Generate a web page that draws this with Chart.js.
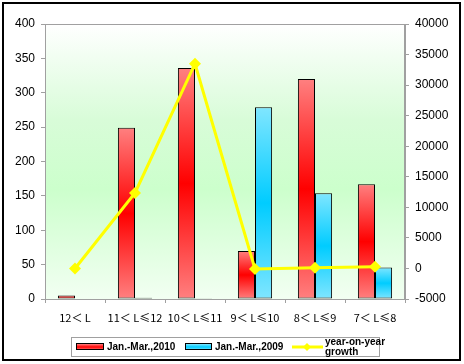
<!DOCTYPE html>
<html>
<head>
<meta charset="utf-8">
<script src="https://cdn.jsdelivr.net/npm/chart.js@4/dist/chart.umd.min.js"></script>
<style>
html,body{margin:0;padding:0;background:#fff;}
#wrap{position:absolute;left:0;top:0;width:464px;height:364px;}
</style>
</head>
<body>
<div id="wrap"><canvas id="c" width="464" height="364"></canvas></div>
<script>
const categories = ["12＜ L", "11＜ L≤12", "10＜ L≤11", "9＜ L≤10", "8＜ L≤9", "7＜ L≤8"];
const sales2010 = [5, 249, 336, 70, 320, 167];
const sales2009 = [0, 2, 1, 279, 154, 46];
const growth = [0, 12350, 33500, -74.9, 107.8, 263];
const leftTicks = [0, 400, 50];
const rightTicks = [-5000, 40000, 5000];
const seriesNames = ["Jan.-Mar.,2010", "Jan.-Mar.,2009", "year-on-year growth"];

function barGradient(ctx, light, dark) {
  const chart = ctx.chart;
  const area = chart.chartArea;
  if (!area || ctx.type !== 'data') return dark;
  const y = chart.scales.y;
  const v = ctx.parsed ? ctx.parsed.y : ctx.raw;
  const top = y.getPixelForValue(v);
  const bot = y.getPixelForValue(0);
  if (!isFinite(top) || Math.abs(bot - top) < 1) return light;
  const g = chart.ctx.createLinearGradient(0, top, 0, bot);
  g.addColorStop(0, light);
  g.addColorStop(0.5, dark);
  g.addColorStop(1, light);
  return g;
}

const framePlugin = {
  id: 'frame',
  beforeDraw(chart) {
    const {ctx, chartArea: a} = chart;
    ctx.save();
    const g = ctx.createLinearGradient(0, a.top, 0, a.bottom);
    g.addColorStop(0, '#ffffff');
    g.addColorStop(0.35, '#d8fcd8');
    g.addColorStop(0.6, '#ccffcc');
    g.addColorStop(1, '#f2fff2');
    ctx.fillStyle = g;
    ctx.fillRect(a.left, a.top, a.right - a.left, a.bottom - a.top);
    ctx.restore();
  },
  afterDraw(chart) {
    const {ctx, chartArea: a} = chart;
    ctx.save();
    ctx.strokeStyle = '#a0a0a0';
    ctx.lineWidth = 1;
    ctx.strokeRect(a.left + 0.5, a.top + 0.5, a.right - a.left - 1, a.bottom - a.top);
    // outer frame
    ctx.strokeStyle = '#000';
    ctx.lineWidth = 2;
    ctx.strokeRect(3, 3, 457, 357);
    // legend
    ctx.lineWidth = 1;
    ctx.strokeStyle = '#a0a0a0';
    ctx.strokeRect(71.5, 337.5, 308, 19);
    ctx.font = 'bold 10px "Liberation Sans", Arial, sans-serif';
    ctx.textBaseline = 'middle';
    ctx.fillStyle = '#000';
    // red
    let g = ctx.createLinearGradient(0, 344, 0, 350);
    g.addColorStop(0, '#ff8080'); g.addColorStop(0.5, '#ff0000'); g.addColorStop(1, '#ff8080');
    ctx.fillStyle = g; ctx.fillRect(77, 344, 27, 6);
    ctx.strokeStyle = '#000'; ctx.strokeRect(76.5, 343.5, 27, 6);
    ctx.fillStyle = '#000'; ctx.textAlign = 'left';
    ctx.fillText(seriesNames[0], 107, 347);
    g = ctx.createLinearGradient(0, 344, 0, 350);
    g.addColorStop(0, '#80e6ff'); g.addColorStop(0.5, '#00ccff'); g.addColorStop(1, '#80e6ff');
    ctx.fillStyle = g; ctx.fillRect(186, 344, 26, 6);
    ctx.strokeRect(185.5, 343.5, 26, 6);
    ctx.fillStyle = '#000';
    ctx.fillText(seriesNames[1], 215, 347);
    // line
    ctx.strokeStyle = '#ffff00'; ctx.lineWidth = 3;
    ctx.beginPath(); ctx.moveTo(292, 347); ctx.lineTo(323, 347); ctx.stroke();
    ctx.fillStyle = '#ffff00';
    ctx.beginPath(); ctx.moveTo(307, 343); ctx.lineTo(311, 347); ctx.lineTo(307, 351); ctx.lineTo(303, 347); ctx.closePath(); ctx.fill();
    ctx.fillStyle = '#000';
    ctx.font = 'bold 10px "Liberation Sans", Arial, sans-serif';
    ctx.fillText('year-on-year', 325, 342);
    ctx.fillText('growth', 325, 352);
    ctx.restore();
  }
};

new Chart(document.getElementById('c'), {
  type: 'bar',
  data: {
    labels: categories,
    datasets: [
      {
        type: 'line',
        label: seriesNames[2],
        data: growth,
        yAxisID: 'y1',
        borderColor: '#ffff00',
        backgroundColor: '#ffff00',
        borderWidth: 3,
        pointStyle: 'rectRot',
        pointRadius: 6,
        pointBorderWidth: 0,
        tension: 0,
        order: 0
      },
      {
        label: seriesNames[0],
        data: sales2010,
        yAxisID: 'y',
        backgroundColor: (c) => barGradient(c, '#ff8080', '#ff0000'),
        borderColor: '#000',
        borderWidth: 1,
        borderSkipped: false,
        order: 1
      },
      {
        label: seriesNames[1],
        data: sales2009,
        yAxisID: 'y',
        backgroundColor: (c) => barGradient(c, '#80e6ff', '#00ccff'),
        borderColor: '#000',
        borderWidth: 1,
        borderSkipped: false,
        order: 1
      }
    ]
  },
  options: {
    responsive: false,
    animation: false,
    devicePixelRatio: 1,
    layout: { padding: { top: 24, left: 0, right: 0, bottom: 0 } },
    datasets: { bar: { barPercentage: 1.0, categoryPercentage: 0.57 } },
    plugins: { legend: { display: false }, tooltip: { enabled: false } },
    scales: {
      x: {
        offset: true,
        grid: { display: true, offset: true, drawOnChartArea: false, drawTicks: true, tickLength: 4, color: '#a0a0a0' },
        border: { display: true, color: '#a0a0a0' },
        ticks: { color: '#000', padding: 8, maxRotation: 0, autoSkip: false, font: { family: '"Noto Sans CJK SC", "DejaVu Sans", sans-serif', size: 11 } },
        afterFit(s) { s.height = 65; }
      },
      y: {
        position: 'left',
        min: leftTicks[0], max: leftTicks[1],
        grid: { display: true, drawOnChartArea: false, drawTicks: true, tickLength: 4, color: '#a0a0a0' },
        border: { display: true, color: '#a0a0a0' },
        ticks: { stepSize: leftTicks[2], color: '#000', padding: 6, font: { family: '"Liberation Sans", Arial, sans-serif', size: 12 }, callback: (v) => String(v) },
        afterFit(s) { s.width = 45; }
      },
      y1: {
        position: 'right',
        min: rightTicks[0], max: rightTicks[1],
        grid: { display: true, drawOnChartArea: false, drawTicks: true, tickLength: 4, color: '#a0a0a0' },
        border: { display: true, color: '#a0a0a0' },
        ticks: { stepSize: rightTicks[2], color: '#000', padding: 6, font: { family: '"Liberation Sans", Arial, sans-serif', size: 12 }, callback: (v) => String(v) },
        afterFit(s) { s.width = 59; }
      }
    }
  },
  plugins: [framePlugin]
});
</script>
</body>
</html>
